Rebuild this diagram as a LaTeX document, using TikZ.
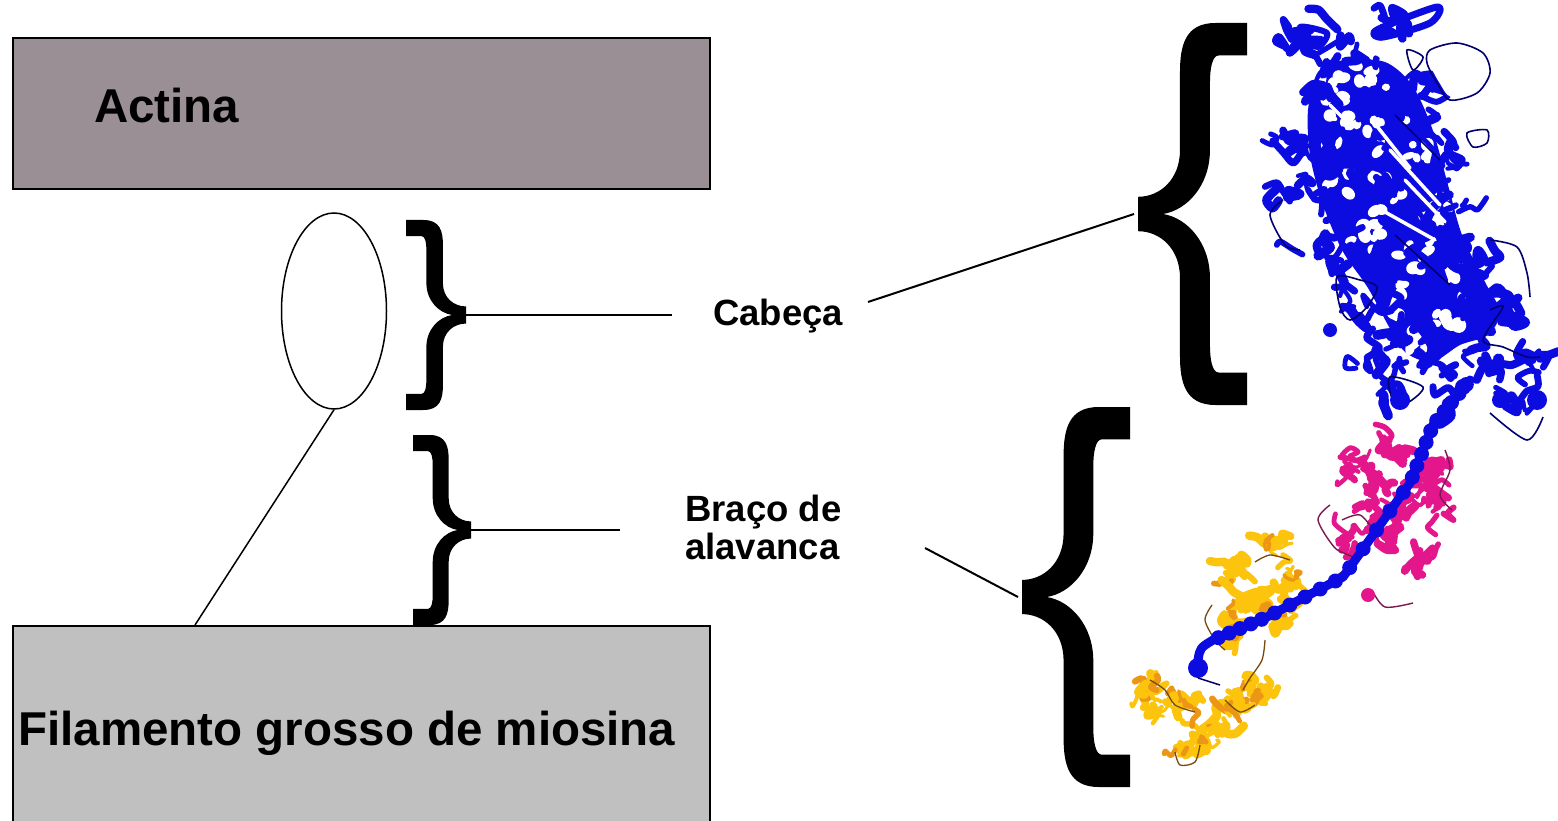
\documentclass[tikz,border=0pt]{standalone}
\usepackage{fontspec}
\setmainfont{Liberation Sans}
\usetikzlibrary{shapes.geometric,calc}

\definecolor{actinfill}{HTML}{9A8F94}
\definecolor{myofill}{HTML}{C0C0C0}
\definecolor{protblue}{RGB}{12,12,225}
\definecolor{protnavy}{RGB}{0,0,110}
\definecolor{protpink}{RGB}{228,22,140}
\definecolor{protplum}{RGB}{125,25,80}
\definecolor{protyellow}{RGB}{252,196,12}
\definecolor{protorange}{RGB}{236,150,22}
\definecolor{protbrown}{RGB}{120,72,12}

% random ribbon strokes around a centre: x, y, spread, style, count, step, min width, extra width
\newcommand\ribbonpatch[8]{%
  \foreach \k in {1,...,#5}{%
    \pgfmathsetmacro\pAx{#1+#3*rand}%
    \pgfmathsetmacro\pAy{#2+#3*rand}%
    \pgfmathsetmacro\pBx{\pAx+#6*rand}%
    \pgfmathsetmacro\pBy{\pAy+#6*rand}%
    \pgfmathsetmacro\pCx{\pBx+#6*rand}%
    \pgfmathsetmacro\pCy{\pBy+#6*rand}%
    \pgfmathsetmacro\pDx{\pCx+#6*rand}%
    \pgfmathsetmacro\pDy{\pCy+#6*rand}%
    \pgfmathsetmacro\pLw{#7+#8*rnd}%
    \draw[#4, line width=\pLw pt] plot[smooth] coordinates {(\pAx,\pAy) (\pBx,\pBy) (\pCx,\pCy) (\pDx,\pDy)};
  }}

% small gaps between packed ribbons: x, y, spread, count
\newcommand\ribbongaps[4]{%
  \foreach \k in {1,...,#4}{%
    \pgfmathsetmacro\pAx{#1+#3*rand}%
    \pgfmathsetmacro\pAy{#2+#3*rand}%
    \pgfmathsetmacro\pRx{3+5*rnd}%
    \pgfmathsetmacro\pRy{3+5*rnd}%
    \pgfmathsetmacro\pRot{180*rnd}%
    \fill[white, rotate around={\pRot:(\pAx,\pAy)}] (\pAx,\pAy) ellipse (\pRx pt and \pRy pt);
  }}

\tikzset{
  % curly brace "{" : tip at the origin, arms at x=1, y from -1 to 1
  curly/.pic={
    \fill (1,1) -- (0.71,1) .. controls (0.43,1) and (0.385,0.88) .. (0.385,0.74)
      -- (0.385,0.335) .. controls (0.385,0.18) and (0.2,0.09) .. (0,0.09)
      -- (0,-0.09) .. controls (0.2,-0.09) and (0.385,-0.18) .. (0.385,-0.335)
      -- (0.385,-0.74) .. controls (0.385,-0.88) and (0.43,-1) .. (0.71,-1)
      -- (1,-1) -- (1,-0.83) -- (0.74,-0.83) .. controls (0.68,-0.83) and (0.66,-0.76) .. (0.66,-0.686)
      -- (0.66,-0.335) .. controls (0.66,-0.15) and (0.45,-0.02) .. (0.23,0)
      .. controls (0.45,0.02) and (0.66,0.15) .. (0.66,0.335)
      -- (0.66,0.686) .. controls (0.66,0.76) and (0.68,0.83) .. (0.74,0.83)
      -- (1,0.83) -- cycle;
  },
  bigtxt/.style={inner sep=0pt, font=\fontsize{47.5}{50}\selectfont\bfseries},
  midtxt/.style={inner sep=0pt, font=\fontsize{36.5}{38}\selectfont\bfseries},
  connector/.style={draw=black, line width=2pt},
  blueribbon/.style={protblue, line cap=round, line join=round},
  pinkribbon/.style={protpink, line cap=round, line join=round},
  yellowribbon/.style={protyellow, line cap=round, line join=round},
  orangeribbon/.style={protorange, line cap=round, line join=round},
  loopnavy/.style={draw=protnavy, line width=1.6pt},
  loopplum/.style={draw=protplum, line width=1.4pt},
  loopbrown/.style={draw=protbrown, line width=1.3pt},
  strandgap/.style={white, line width=3.5pt, line cap=round},
}

\begin{document}
\begin{tikzpicture}[x=1pt,y=-1pt]
\useasboundingbox (0,0) rectangle (1558,821);
\clip (0,0) rectangle (1558,821);
\fill[white] (0,0) rectangle (1558,821);

% --- filaments ---
\node (actina) [draw, line width=2pt, fill=actinfill, rectangle, minimum width=697pt,
  minimum height=151pt, anchor=north west, inner sep=0pt] at (12,37) {};
\node[bigtxt, anchor=base west] (actinatxt) at (94,123) {Actina};

\node (filamento) [draw, line width=2pt, fill=myofill, rectangle, minimum width=697pt,
  minimum height=240pt, anchor=north west, inner sep=0pt] at (12,625) {};
\node[bigtxt, anchor=base west] (filtxt) at (18,745) {Filamento grosso de miosina};

% --- myosin head sketch ---
\node (head) [ellipse, draw, line width=1.5pt, minimum width=105pt, minimum height=196pt,
  inner sep=0pt] at (334,311) {};
\coordinate (neckfoot) at (195,625);
\draw[line width=1.5pt] (head.south) -- (neckfoot);

% --- small braces ---
\coordinate (brHead) at (466,315);
\coordinate (brArm) at (471,530);
\pic[xscale=-60, yscale=95] at (brHead) {curly};
\pic[xscale=-58, yscale=95] at (brArm) {curly};

% --- labels ---
\node[midtxt, anchor=base west] (cabtxt) at (713,325) {Cabeça};
\node[midtxt, anchor=base west] (bratxt) at (685,521)
  {\begin{tabular}[t]{@{}l@{}}Braço de\\alavanca\end{tabular}};

\coordinate (cabIn) at (672,315);
\coordinate (braIn) at (620,530);
\coordinate (cabOut) at (868,302);
\coordinate (braOut) at (925,548);

% --- large braces ---
\coordinate (bigHead) at (1138,214);
\coordinate (bigArm) at (1022,597);
\pic[xscale=109, yscale=191] at (bigHead) {curly};
\pic[xscale=108, yscale=190] at (bigArm) {curly};

% --- connectors ---
\draw[connector] (brHead) -- (cabIn);
\draw[connector] (brArm) -- (braIn);
\draw[connector] (cabOut) -- ([xshift=-4pt]bigHead);
\draw[connector] (braOut) -- ([xshift=-4pt]bigArm);

% --- ribbon model: motor domain (blue) ---
\pgfmathsetseed{4217}
% packed core of the motor domain
\fill[protblue] plot[smooth cycle] coordinates {(1318,72) (1345,60) (1385,62) (1412,85)
  (1432,128) (1448,185) (1462,235) (1485,282) (1500,312) (1488,335) (1460,345)
  (1432,362) (1405,352) (1388,325) (1368,288) (1342,250) (1322,202) (1310,155) (1308,110)};
\foreach \x/\y/\r in {1330/90/14, 1370/80/16, 1340/130/18, 1385/130/22, 1420/150/12,
  1340/185/14, 1390/190/22, 1435/210/14, 1365/240/16, 1415/250/20, 1455/272/12,
  1398/300/18, 1448/310/16, 1420/338/12}{
  \ribbongaps{\x}{\y}{\r}{7}
}
\foreach \x/\y/\r in {1300/40/16, 1345/45/20, 1395/28/16, 1330/90/28, 1380/85/28,
  1430/80/18, 1290/140/20, 1340/140/28, 1395/140/30, 1445/150/20, 1295/195/18,
  1345/195/28, 1400/195/30, 1450/200/24, 1320/245/22, 1375/250/30, 1430/250/30,
  1480/255/20, 1360/300/26, 1410/300/30, 1465/300/28, 1515/310/18, 1375/350/22,
  1420/350/26, 1480/345/22, 1530/350/12, 1395/395/16, 1450/392/18, 1510/395/16}{
  \ribbonpatch{\x}{\y}{\r}{blueribbon}{6}{13}{4}{6}
}
% gaps between the sheet strands
\draw[strandgap] (1372,120) -- (1410,168);
\draw[strandgap] (1390,150) -- (1440,205);
\draw[strandgap] (1405,180) -- (1445,222);
\draw[strandgap] (1385,212) -- (1435,240);
\draw[strandgap] (1330,105) -- (1350,125);
\draw[blueribbon, line width=7pt] plot[smooth cycle] coordinates {(1377,30) (1437,7) (1430,23) (1383,37)};
\draw[blueribbon, line width=6pt] plot[smooth cycle] coordinates {(1300,27) (1327,33) (1317,47)};
\fill[white] plot[smooth cycle] coordinates {(1432,52) (1457,46) (1480,55) (1487,73) (1475,91) (1451,97) (1439,82) (1430,64)};
\draw[loopnavy] plot[smooth cycle] coordinates {(1430,50) (1457,43) (1483,53) (1490,73) (1477,93) (1450,100) (1437,83) (1427,63)};
\draw[loopnavy] plot[smooth cycle] coordinates {(1407,50) (1423,57) (1413,70)};
\draw[loopnavy] plot[smooth cycle] coordinates {(1467,133) (1487,130) (1487,143) (1473,147)};
\draw[loopnavy] plot[smooth cycle] coordinates {(1337,277) (1360,280) (1377,287) (1367,307) (1350,320) (1340,307)};
\draw[loopnavy] plot[smooth cycle] coordinates {(1390,377) (1423,387) (1407,403) (1393,400)};
\draw[loopnavy] plot[smooth] coordinates {(1490,240) (1517,247) (1527,273) (1530,297)};
\draw[loopnavy] plot[smooth] coordinates {(1490,310) (1503,307) (1483,340) (1503,347) (1527,357) (1540,357)};
\draw[loopnavy] plot[smooth] coordinates {(1490,413) (1527,440) (1543,417)};
\draw[loopnavy] plot[smooth] coordinates {(1283,200) (1270,215) (1285,245) (1300,250)};
\draw[loopnavy] (1395,115) -- (1440,160);
\draw[loopnavy] (1395,235) -- (1450,285);
\foreach \x/\y/\r in {1400/400/10, 1537/400/10, 1500/400/8, 1463/387/8, 1330/330/7}{
  \fill[protblue] (\x,\y) circle (\r pt);
}

% --- essential light chain (pink) ---
\foreach \x/\y/\r in {1355/462/12, 1390/455/14, 1430/470/14, 1400/500/16, 1365/500/12,
  1440/505/12, 1390/540/12, 1420/558/8, 1350/545/8, 1415/480/12, 1375/525/10}{
  \ribbonpatch{\x}{\y}{\r}{pinkribbon}{8}{10}{3}{6}
}
\draw[loopplum] plot[smooth] coordinates {(1330,505) (1318,520) (1335,548) (1355,560) (1330,580)};
\draw[loopplum] plot[smooth] coordinates {(1445,450) (1450,470) (1440,495) (1452,510)};
\draw[loopplum] plot[smooth] coordinates {(1372,590) (1385,607) (1413,603)};
\draw[loopplum] plot[smooth] coordinates {(1342,520) (1360,515) (1375,532)};
\fill[protpink] (1368,595) circle (7pt);

% --- regulatory light chain (yellow) ---
\foreach \x/\y/\r in {1273/545/10, 1233/573/12, 1290/582/10, 1240/605/10, 1283/617/9,
  1233/630/8, 1262/600/10, 1142/685/8, 1162/700/10, 1187/707/10, 1217/720/10, 1247/695/10,
  1262/693/8, 1200/733/10, 1180/752/6, 1232/708/8}{
  \ribbonpatch{\x}{\y}{\r}{yellowribbon}{7}{9}{3}{6}
  \ribbonpatch{\x}{\y}{\r}{orangeribbon}{2}{7}{3}{4}
}
\draw[loopbrown] plot[smooth] coordinates {(1212,605) (1205,620) (1215,640) (1225,650)};
\draw[loopbrown] plot[smooth] coordinates {(1265,640) (1262,660) (1250,678) (1243,690)};
\draw[loopbrown] plot[smooth] coordinates {(1175,752) (1180,765) (1195,762) (1200,745)};
\draw[loopbrown] plot[smooth] coordinates {(1255,562) (1270,555) (1290,560)};
\draw[loopbrown] plot[smooth] coordinates {(1150,680) (1165,690) (1175,705) (1195,712)};
\draw[loopbrown] plot[smooth] coordinates {(1225,700) (1240,712) (1255,705)};

% --- lever-arm helix (blue) ---
\coordinate (h0) at (1470,380);
\coordinate (h1) at (1433,425);
\coordinate (h2) at (1410,483);
\coordinate (h3) at (1343,577);
\coordinate (h4) at (1267,617);
\coordinate (h5) at (1213,640);
\draw[protblue, line width=9pt, line cap=round, line join=round]
  (h0) -- (h1) -- (h2) -- (h3) -- (h4) -- (h5) .. controls (1200,648) .. (1198,660);
\foreach \a/\b in {h0/h1, h1/h2, h2/h3, h3/h4, h4/h5}{
  \foreach \t in {0.1,0.3,...,0.95}{
    \fill[protblue] ($(\a)!\t!(\b)$) circle (7.5pt);
  }
}
\fill[protblue] (1198,668) circle (10pt);
\draw[protnavy, line width=1.5pt] (1198,678) -- (1220,685);
\end{tikzpicture}
\end{document}
